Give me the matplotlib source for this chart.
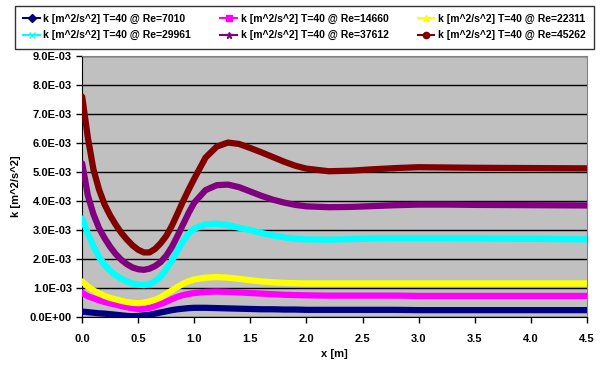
import matplotlib
matplotlib.use("Agg")
import matplotlib.pyplot as plt
from matplotlib.lines import Line2D

plt.rcParams['font.family'] = ['Liberation Sans', 'DejaVu Sans']

x = [0.0, 0.05, 0.1, 0.15, 0.2, 0.25, 0.3, 0.35, 0.4, 0.45, 0.5, 0.55, 0.6, 0.65, 0.7, 0.75,
     0.8, 0.85, 0.9, 0.95, 1.0, 1.1, 1.2, 1.3, 1.4, 1.5, 1.6, 1.7, 1.8, 1.9, 2.0, 2.2, 2.4,
     2.6, 2.8, 3.0, 3.25, 3.5, 4.0, 4.5]

k_7010 = [0.19, 0.17, 0.15, 0.13, 0.12, 0.10, 0.08, 0.06, 0.04, 0.03, 0.04, 0.06, 0.08, 0.12,
          0.16, 0.20, 0.24, 0.27, 0.29, 0.31, 0.32, 0.32, 0.31, 0.30, 0.29, 0.28, 0.27, 0.27,
          0.26, 0.26, 0.25, 0.25, 0.25, 0.25, 0.25, 0.24, 0.24, 0.24, 0.24, 0.24]
k_14660 = [0.83, 0.72, 0.65, 0.58, 0.52, 0.47, 0.43, 0.38, 0.34, 0.30, 0.28, 0.29, 0.32, 0.38,
           0.45, 0.53, 0.62, 0.70, 0.76, 0.80, 0.83, 0.87, 0.88, 0.87, 0.85, 0.83, 0.81, 0.79,
           0.77, 0.76, 0.75, 0.74, 0.74, 0.74, 0.74, 0.73, 0.73, 0.73, 0.73, 0.73]
k_22311 = [1.23, 1.05, 0.92, 0.82, 0.73, 0.66, 0.61, 0.56, 0.52, 0.49, 0.48, 0.50, 0.54, 0.60,
           0.68, 0.80, 0.92, 1.04, 1.15, 1.24, 1.30, 1.36, 1.38, 1.36, 1.32, 1.27, 1.23, 1.20,
           1.18, 1.17, 1.16, 1.16, 1.16, 1.16, 1.16, 1.16, 1.16, 1.16, 1.16, 1.16]
k_29961 = [3.40, 2.88, 2.45, 2.08, 1.80, 1.60, 1.44, 1.32, 1.23, 1.16, 1.12, 1.10, 1.14, 1.24,
           1.40, 1.65, 1.95, 2.30, 2.62, 2.88, 3.05, 3.20, 3.22, 3.17, 3.08, 3.00, 2.90, 2.82,
           2.75, 2.70, 2.68, 2.67, 2.69, 2.71, 2.72, 2.72, 2.72, 2.71, 2.70, 2.68]
k_37612 = [5.30, 4.20, 3.55, 3.07, 2.72, 2.42, 2.17, 1.97, 1.82, 1.71, 1.65, 1.63, 1.67, 1.76,
           1.90, 2.12, 2.42, 2.80, 3.20, 3.60, 3.95, 4.38, 4.55, 4.57, 4.48, 4.33, 4.18, 4.05,
           3.95, 3.87, 3.82, 3.79, 3.80, 3.83, 3.86, 3.88, 3.88, 3.87, 3.86, 3.85]
k_45262 = [7.60, 6.20, 5.10, 4.40, 3.88, 3.50, 3.18, 2.90, 2.67, 2.47, 2.32, 2.23, 2.23, 2.35,
           2.55, 2.80, 3.15, 3.57, 4.00, 4.40, 4.78, 5.50, 5.88, 6.02, 5.97, 5.83, 5.68, 5.52,
           5.36, 5.22, 5.12, 5.03, 5.05, 5.10, 5.14, 5.17, 5.16, 5.15, 5.14, 5.13]

labels = ["k [m^2/s^2] T=40 @ Re=7010", "k [m^2/s^2] T=40 @ Re=14660", "k [m^2/s^2] T=40 @ Re=22311",
          "k [m^2/s^2] T=40 @ Re=29961", "k [m^2/s^2] T=40 @ Re=37612", "k [m^2/s^2] T=40 @ Re=45262"]
series = [k_7010, k_14660, k_22311, k_29961, k_37612, k_45262]
colors = ["#000080", "#FF00FF", "#FFFF00", "#00FFFF", "#800080", "#800000"]
markers = ["D", "s", "^", "x", "*", "o"]

fig = plt.figure(figsize=(6.0, 3.67), dpi=100)
ax = fig.add_axes([0.137, 0.136, 0.841, 0.711])
ax.set_facecolor("#C0C0C0")

for ys, c in zip(series, colors):
    ax.plot(x, [v * 1e-3 for v in ys], color=c, lw=4.5, solid_capstyle='round',
            solid_joinstyle='round', zorder=3)

xt = [0, 0.5, 1.0, 1.5, 2.0, 2.5, 3.0, 3.5, 4.0, 4.5]
ax.set_xlim(0, 4.5)
ax.set_ylim(0, 9e-3)
ax.set_xticks(xt)
ax.set_xticklabels(["%.1f" % v for v in xt])
yt = [i * 1e-3 for i in range(10)]
ax.set_yticks(yt)
ax.set_yticklabels(["0.0E+00"] + ["%.1fE-03" % i for i in range(1, 10)])
ax.yaxis.grid(True, color="black", lw=1.0)
ax.set_axisbelow(True)
for lab in ax.get_xticklabels() + ax.get_yticklabels():
    lab.set_fontweight("bold")
    lab.set_fontsize(8)
ax.tick_params(axis='both', direction='out', length=4, width=1, color='black')
ax.tick_params(axis='x', pad=8)
for s in ['top', 'right']:
    ax.spines[s].set_color('#808080')
for s in ['left', 'bottom']:
    ax.spines[s].set_color('black')
ax.set_xlabel("x [m]", fontweight="bold", fontsize=8, labelpad=4)
ax.set_ylabel("k [m^2/s^2]", fontweight="bold", fontsize=8, labelpad=6)

handles = [Line2D([0], [0], color=c, lw=1.5, marker=m, markersize=4.5, markeredgecolor=c)
           for c, m in zip(colors, markers)]
# matplotlib fills legend column-first; reorder so rows read like the reference
order = [0, 3, 1, 4, 2, 5]
leg = fig.legend([handles[i] for i in order], [labels[i] for i in order],
                 loc='upper center', bbox_to_anchor=(0.5075, 0.985), ncol=3,
                 prop={'weight': 'bold', 'size': 7.5}, frameon=True, fancybox=False,
                 edgecolor='black', handlelength=1.6, columnspacing=2.8, borderpad=0.8,
                 labelspacing=0.6, handletextpad=0.35, borderaxespad=0.0)
leg.get_frame().set_linewidth(1.0)

fig.savefig("out.png", dpi=100)
